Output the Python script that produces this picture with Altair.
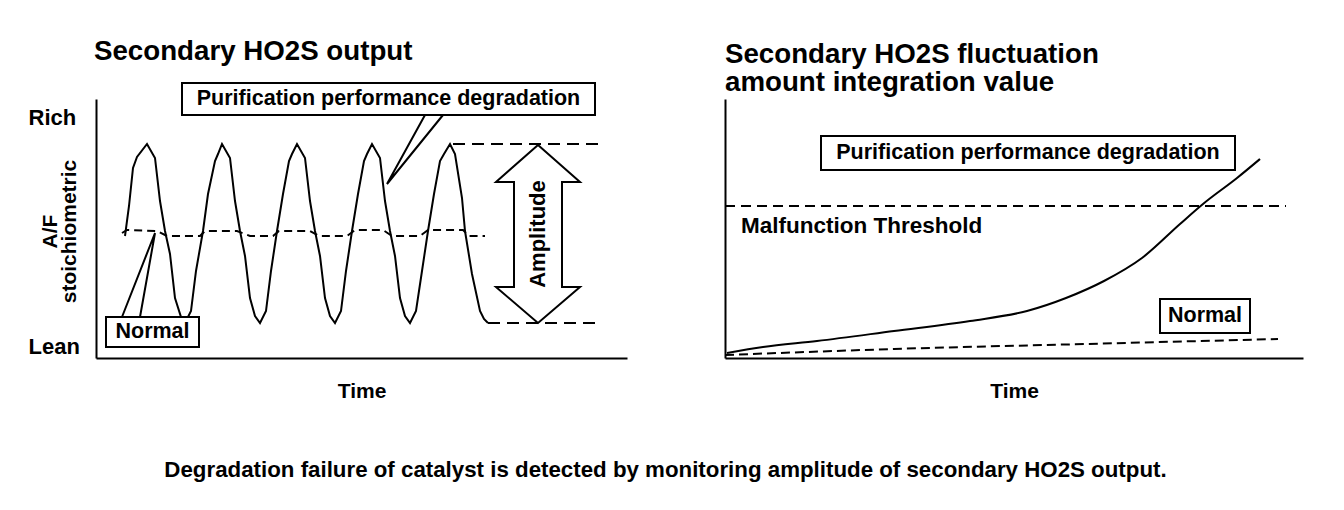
import altair as alt
import pandas as pd

FONT = "Liberation Sans"

# ---------------- Left panel: Secondary HO2S output ----------------
# Purification performance degradation (large swings)
deg_t = [29, 33, 37, 41, 51, 59, 64, 69, 74, 79, 85, 89, 95, 100, 107, 112, 119, 122, 126,
         134, 139, 144, 149, 154, 159, 164, 170, 175, 181, 187, 193, 196, 201,
         209, 214, 219, 224, 229, 234, 239, 245, 250, 256, 262, 268, 271, 276,
         284, 289, 294, 299, 304, 309, 314, 320, 326, 332, 338, 344, 348, 354,
         359, 366, 369, 376, 384, 388, 392]
deg_v = [122, 152, 190, 201, 214, 200, 157, 127, 104, 60, 41, 35, 47, 87, 127, 164, 197, 204, 214,
         200, 157, 127, 102, 60, 42, 35, 47, 87, 127, 164, 197, 204, 214,
         200, 157, 127, 102, 60, 42, 35, 47, 87, 127, 164, 197, 204, 214,
         200, 157, 127, 102, 60, 42, 35, 47, 87, 127, 164, 197, 204, 214,
         204, 160, 127, 84, 47, 39, 35]
# Normal (small ripple around stoichiometric)
norm_t = [26, 31, 61, 71, 104, 109, 141, 154, 177, 183, 214, 223, 251, 259, 287, 296, 324, 332, 367, 373, 389]
norm_v = [125, 128, 127, 122, 122, 127, 127, 122, 122, 127, 127, 122, 122, 128, 128, 122, 122, 128, 128, 122, 122]
rich_level, lean_level = 241, 12
peak_level, trough_level = 214, 35

# ---------------- Right panel: fluctuation amount integration ----------------
int_deg_t = [2, 38, 92, 169, 245, 302, 341, 379, 417, 455, 478, 512, 535]
int_deg_v = [5, 11, 17, 27, 37, 47, 60, 77, 100, 134, 154, 180, 199]
int_norm_t = [0, 169, 360, 553]
int_norm_v = [3, 9, 14, 19]
threshold = 152

LW, LH = 531, 259
RW, RH = 578, 259

axis_common = dict(grid=False, ticks=False, tickSize=0, domainColor="black", domainWidth=2,
                   labelColor="black", titleColor="black")


def xaxis():
    return alt.Axis(labels=False, title="Time", titleFontSize=21, titleFontWeight="bold",
                    titlePadding=22, **axis_common)


def path(ts, vs):
    return pd.DataFrame({"t": ts, "v": vs, "i": list(range(len(ts)))})


def line_layer(df, xs, ys, dash=None, width=2, interp="linear"):
    props = dict(color="black", strokeWidth=width, interpolate=interp)
    if dash:
        props["strokeDash"] = dash
    return alt.Chart(df).mark_line(**props).encode(
        x=alt.X("t:Q", scale=xs),
        y=alt.Y("v:Q", scale=ys),
        order="i:Q",
    )


def box_layer(x1, x2, y1, y2, xs, ys):
    return alt.Chart(pd.DataFrame({"t": x1, "t2": x2, "v": y1, "v2": y2})).mark_rect(
        fill="white", stroke="black", strokeWidth=2).encode(
        x=alt.X("t:Q", scale=xs), x2="t2:Q", y=alt.Y("v:Q", scale=ys), y2="v2:Q")


def text_layer(ts, vs, labels, xs, ys, size=22, align="center", angle=0):
    return alt.Chart(pd.DataFrame({"t": ts, "v": vs, "label": labels})).mark_text(
        font=FONT, fontSize=size, fontWeight="bold", color="black", align=align,
        baseline="middle", angle=angle).encode(
        x=alt.X("t:Q", scale=xs), y=alt.Y("v:Q", scale=ys), text="label:N")


# ---- Left panel layers ----
lx = alt.Scale(domain=[0, LW], nice=False, zero=False)
ly = alt.Scale(domain=[0, LH], nice=False, zero=False)

left_axes = alt.Chart(pd.DataFrame({"t": [0], "v": [0]})).mark_point(opacity=0).encode(
    x=alt.X("t:Q", scale=lx, axis=xaxis()),
    y=alt.Y("v:Q", scale=ly, axis=alt.Axis(
        values=[lean_level, rich_level],
        labelExpr="datum.value > 100 ? 'Rich' : 'Lean'",
        labelAlign="left", labelPadding=68, labelFontSize=22, labelFontWeight="bold",
        labelBaseline="middle", labelFlush=False, labelOverlap=False,
        title=["A/F", "stoichiometric"], titleAngle=270, titleX=-46, titleY=132,
        titleAlign="center", titleBaseline="middle", titleFontSize=21,
        titleFontWeight="bold", titleLineHeight=19, **axis_common)),
)

deg_line = line_layer(path(deg_t, deg_v), lx, ly)
norm_line = line_layer(path(norm_t, norm_v), lx, ly, dash=[8, 5])
amp_top = line_layer(path([357, 502], [peak_level, peak_level]), lx, ly, dash=[12, 7])
amp_bot = line_layer(path([392, 502], [trough_level, trough_level]), lx, ly, dash=[12, 7])
arrow = line_layer(path([442, 484, 466, 466, 484, 442, 400, 418, 418, 400, 442],
                        [213, 176, 176, 71, 71, 35, 71, 71, 176, 176, 213]), lx, ly)
call_top = line_layer(path([329, 291, 347], [243, 174, 243]), lx, ly)
call_norm = line_layer(path([26, 59, 44], [41, 125, 41]), lx, ly)

left_boxes = box_layer([86, 10], [499, 103], [243, 11], [275, 41], lx, ly)
left_text = text_layer([292.5, 56.5], [259, 26],
                       ["Purification performance degradation", "Normal"], lx, ly, size=21.5)
amp_text = text_layer([442], [124], ["Amplitude"], lx, ly, angle=270)

left = alt.layer(
    left_axes, norm_line, deg_line, amp_top, amp_bot, arrow, call_top, call_norm,
    left_boxes, left_text, amp_text,
).properties(
    width=LW, height=LH,
    title=alt.TitleParams("Secondary HO2S output", anchor="start", frame="group",
                          font=FONT, fontSize=27.7, fontWeight="bold",
                          offset=16, dx=-2, color="black"),
)

# ---- Right panel layers ----
rx = alt.Scale(domain=[0, RW], nice=False, zero=False)
ry = alt.Scale(domain=[0, RH], nice=False, zero=False)

right_axes = alt.Chart(pd.DataFrame({"t": [0], "v": [0]})).mark_point(opacity=0).encode(
    x=alt.X("t:Q", scale=rx, axis=xaxis()),
    y=alt.Y("v:Q", scale=ry, axis=alt.Axis(labels=False, title=None, **axis_common)),
)

thr_line = line_layer(path([0, 561], [threshold, threshold]), rx, ry, dash=[10, 6])
int_deg_line = line_layer(path(int_deg_t, int_deg_v), rx, ry, interp="monotone")
int_norm_line = line_layer(path(int_norm_t, int_norm_v), rx, ry, dash=[9, 5], interp="monotone")

right_boxes = box_layer([96, 435], [510, 525], [188, 25], [222, 59], rx, ry)
right_text = text_layer([303, 480], [205, 42],
                        ["Purification performance degradation", "Normal"], rx, ry, size=21.5)
thr_text = text_layer([16], [132], ["Malfunction Threshold"], rx, ry, size=22.5, align="left")

right = alt.layer(
    right_axes, thr_line, int_norm_line, int_deg_line, right_boxes, right_text, thr_text,
).properties(
    width=RW, height=RH,
    title=alt.TitleParams(["Secondary HO2S fluctuation", "amount integration value"],
                          anchor="start", frame="group", font=FONT, fontSize=27.7,
                          fontWeight="bold", lineHeight=28, offset=2, color="black"),
)

chart = alt.hconcat(left, right, spacing=94).properties(
    title=alt.TitleParams(
        "Degradation failure of catalyst is detected by monitoring amplitude of secondary HO2S output.",
        orient="bottom", anchor="middle", font=FONT, fontSize=22.3, fontWeight="bold",
        color="black", offset=58),
    padding={"left": 20, "top": 30, "right": 5, "bottom": 5},
).configure(font=FONT, background="white").configure_view(stroke=None)

chart.save("out.html", embed_options={"renderer": "svg", "actions": False})
